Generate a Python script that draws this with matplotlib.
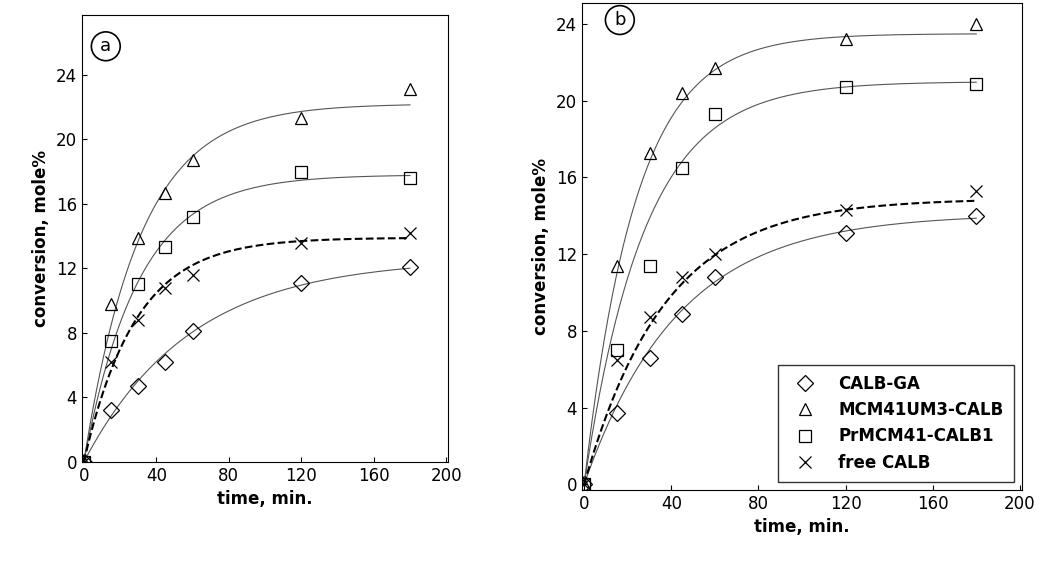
import numpy as np
import matplotlib
matplotlib.use("Agg")
import matplotlib.pyplot as plt

t = [0, 15, 30, 45, 60, 120, 180]
names = ["CALB-GA", "MCM41UM3-CALB", "PrMCM41-CALB1", "free CALB"]
markers = ["D", "^", "s", "x"]
a_vals = [[0, 3.2, 4.7, 6.2, 8.1, 11.1, 12.1],
          [0, 9.8, 13.9, 16.7, 18.7, 21.3, 23.1],
          [0, 7.5, 11.0, 13.3, 15.2, 18.0, 17.6],
          [0, 6.2, 8.8, 10.8, 11.6, 13.6, 14.2]]
b_vals = [[0, 3.7, 6.6, 8.9, 10.8, 13.1, 14.0],
          [0, 11.4, 17.3, 20.4, 21.7, 23.2, 24.0],
          [0, 7.0, 11.4, 16.5, 19.3, 20.7, 20.9],
          [0, 6.5, 8.7, 10.8, 12.0, 14.3, 15.3]]
# fitted curve parameters A*(1-exp(-k t))
a_fit = [(12.6, 0.017), (22.2, 0.032), (17.8, 0.033), (13.9, 0.035)]
b_fit = [(14.1, 0.023), (23.5, 0.042), (21.0, 0.036), (14.9, 0.027)]

fig = plt.figure(figsize=(10.41, 5.61), dpi=100)
ax1 = fig.add_axes([82/1041, 1-462/561, 366/1041, 447/561])
ax2 = fig.add_axes([582/1041, 1-490/561, 440/1041, 487/561])

tt = np.linspace(0, 180, 200)
for ax, vals, fits, ylim, lab, lpos in [(ax1, a_vals, a_fit, (0, 27.7), "a", (0.065, 0.93)),
                                       (ax2, b_vals, b_fit, (-0.3, 25.1), "b", (0.086, 0.965))]:
    for i, (v, (A, k)) in enumerate(zip(vals, fits)):
        ls = "--" if i == 3 else "-"
        lw = 1.5 if i == 3 else 0.8
        col = "black" if i == 3 else "#555555"
        ax.plot(tt, A * (1 - np.exp(-k * tt)), ls, color=col, lw=lw)
        ms = 8 if markers[i] == "D" else 9
        ax.plot(t, v, markers[i], ms=ms, mfc="none", mec="black",
                mew=0.9, linestyle="none", label=names[i])
    ax.set_xlim(-1, 201)
    ax.set_ylim(*ylim)
    ax.set_xticks(range(0, 201, 40))
    ax.set_yticks(range(0, 25, 4))
    ax.tick_params(labelsize=12, direction="in")
    ax.set_xlabel("time, min.", fontsize=12, fontweight="bold")
    ax.set_ylabel("conversion, mole%", fontsize=12, fontweight="bold")
    ax.text(*lpos, lab, transform=ax.transAxes, fontsize=13, ha="center", va="center",
            bbox=dict(boxstyle="circle,pad=0.3", fc="white", ec="black", lw=1.2))

ax2.legend(loc="lower right", fontsize=12, frameon=True, fancybox=False, edgecolor="black",
           prop={"weight": "bold", "size": 12}, handletextpad=1.0, borderpad=0.6)
fig.savefig("out.png", dpi=100)
